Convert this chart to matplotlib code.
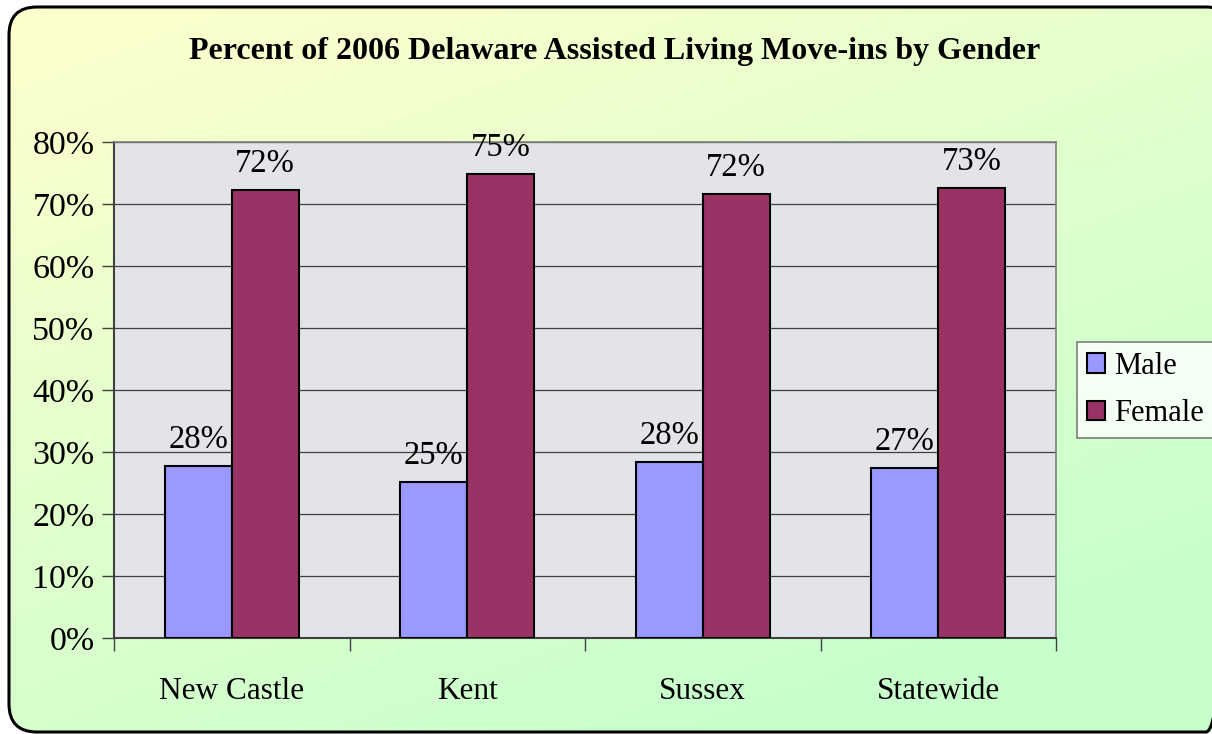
import matplotlib.pyplot as plt
import numpy as np
from matplotlib.patches import FancyBboxPatch, Patch
from matplotlib.ticker import FuncFormatter, FixedLocator

# data
regions = ["New Castle", "Kent", "Sussex", "Statewide"]
male = [27.7, 25.2, 28.4, 27.4]
female = [72.3, 74.8, 71.6, 72.6]
male_labels = ["28%", "25%", "28%", "27%"]
female_labels = ["72%", "75%", "72%", "73%"]

plt.rcParams['font.family'] = ['Liberation Serif', 'DejaVu Serif']

W, H = 1212, 734
fig = plt.figure(figsize=(W / 100, H / 100), dpi=100)

# background: rounded box with yellow -> green diagonal gradient
bg = fig.add_axes([0, 0, 1, 1], zorder=-10)
bg.set_xlim(0, W)
bg.set_ylim(H, 0)
bg.axis('off')
yy, xx = np.mgrid[0:1:200j, 0:1:200j]
t = np.clip((0.45 * xx + 0.75 * yy), 0, 1)
top = np.array([255, 255, 204]) / 255.0
bot = np.array([200, 255, 204]) / 255.0
grad = top[None, None, :] * (1 - t[..., None]) + bot[None, None, :] * t[..., None]
im = bg.imshow(grad, extent=(0, W, H, 0), aspect='auto', interpolation='bilinear')
box = FancyBboxPatch((9, 7), W + 22 - 9, H - 2 - 7,
                     boxstyle="round,pad=0,rounding_size=28",
                     facecolor='none', edgecolor='black', linewidth=2.2)
bg.add_patch(box)
im.set_clip_path(box)

ax = fig.add_axes([114 / W, 1 - 638 / H, (1056 - 114) / W, (638 - 142) / H])
ax.set_facecolor('#e3e4e7')

x = np.arange(len(regions))
bw = 0.285
b1 = ax.bar(x - bw / 2, male, bw, color='#9999ff', edgecolor='black', linewidth=1.5, zorder=3)
b2 = ax.bar(x + bw / 2, female, bw, color='#993366', edgecolor='black', linewidth=1.5, zorder=3)

for rect, lab in zip(b1, male_labels):
    ax.annotate(lab, (rect.get_x() + rect.get_width() / 2, rect.get_height()),
                xytext=(0, 8), textcoords='offset points', ha='center', va='bottom', fontsize=23.5)
for rect, lab in zip(b2, female_labels):
    ax.annotate(lab, (rect.get_x() + rect.get_width() / 2, rect.get_height()),
                xytext=(0, 8), textcoords='offset points', ha='center', va='bottom', fontsize=23.5,
                annotation_clip=False)

ax.set_xlim(-0.5, len(regions) - 0.5)
ax.set_ylim(0, 80)
ax.set_yticks(np.arange(0, 81, 10))
ax.yaxis.set_major_formatter(FuncFormatter(lambda v, p: "%d%%" % v))
ax.grid(axis='y', color='#404040', linewidth=0.9, zorder=1)

ax.xaxis.set_major_locator(FixedLocator(np.arange(-0.5, len(regions), 1.0)))
ax.xaxis.set_major_formatter(FuncFormatter(lambda v, p: ""))
ax.set_xticks(x, minor=True)
ax.set_xticklabels(regions, minor=True, fontsize=22.5)
ax.tick_params(axis='x', which='minor', length=0, pad=28)
ax.tick_params(axis='x', which='major', length=9, width=1, color='#404040', direction='out')
ax.tick_params(axis='y', length=9, width=1, color='#404040', labelsize=24.5, pad=5)

for s in ['top', 'right']:
    ax.spines[s].set_color('#808080')
    ax.spines[s].set_linewidth(1.2)
for s in ['left', 'bottom']:
    ax.spines[s].set_color('#404040')
    ax.spines[s].set_linewidth(1.5)

fig.text(615 / W, 1 - 52 / H, "Percent of 2006 Delaware Assisted Living Move-ins by Gender",
         ha='center', va='center', fontsize=23, fontweight='bold')

handles = [Patch(facecolor='#9999ff', edgecolor='black', linewidth=1.5, label='Male'),
           Patch(facecolor='#993366', edgecolor='black', linewidth=1.5, label='Female')]
leg = fig.legend(handles=handles, loc='upper left', bbox_to_anchor=(1077 / W, 1 - 342 / H),
                 fontsize=22, frameon=True, fancybox=False, handlelength=0.6, handleheight=0.6,
                 handletextpad=0.3, borderpad=0.32, labelspacing=0.6, borderaxespad=0)
leg.get_frame().set_edgecolor('#606060')
leg.get_frame().set_linewidth(1.2)
leg.get_frame().set_facecolor('white')

fig.savefig('out.png', dpi=100)
